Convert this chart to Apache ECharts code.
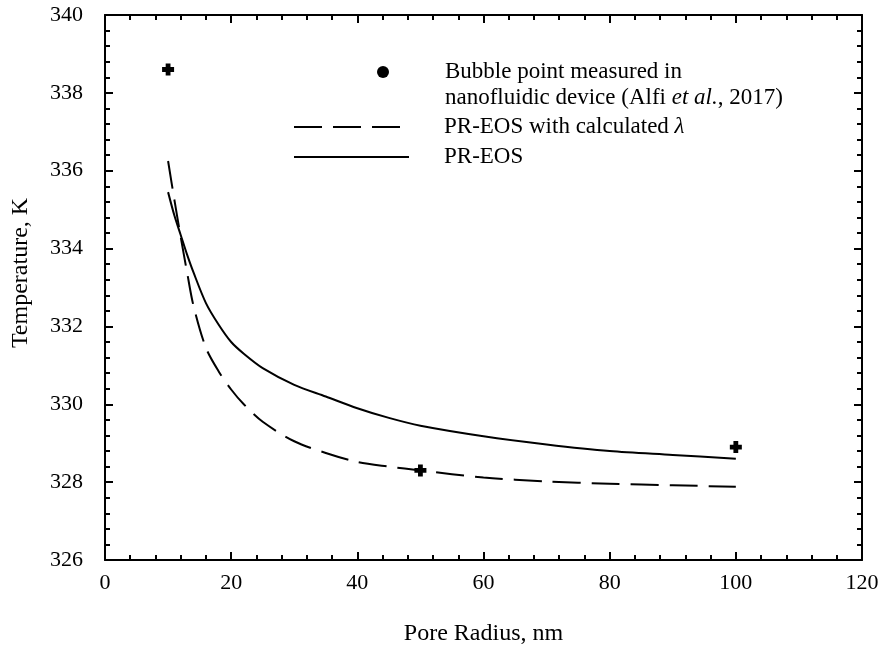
<!DOCTYPE html>
<html>
<head>
<meta charset="utf-8">
<script src="https://cdn.jsdelivr.net/npm/echarts@6/dist/echarts.min.js"></script>
<style>
html,body{margin:0;padding:0;background:#fff;}
#chart{width:884px;height:651px;}
</style>
</head>
<body>
<div id="chart"></div>
<script>
// Measured bubble points
const measuredX = [10, 50, 100];
const measuredY = [338.6, 328.3, 328.9];

// Pore radius samples for the curves
const radius = [10, 11, 12, 13, 14, 16, 18, 20, 22, 25, 30, 35, 40, 45, 50, 60, 70, 80, 90, 100];
// PR-EOS with calculated lambda (dashed)
const prLambda = [336.25, 335.25, 334.3, 333.4, 332.55, 331.45, 330.85, 330.38, 330.0, 329.55, 329.05, 328.75, 328.52, 328.4, 328.3, 328.12, 328.02, 327.96, 327.92, 327.88];
// PR-EOS (solid)
const prEos = [335.45, 334.85, 334.35, 333.85, 333.4, 332.6, 332.05, 331.6, 331.3, 330.93, 330.5, 330.2, 329.9, 329.65, 329.45, 329.18, 328.97, 328.8, 328.7, 328.6];

const xTicks = [0, 20, 40, 60, 80, 100, 120];
const yTicks = [326, 328, 330, 332, 334, 336, 338, 340];

const nameMeasured = 'Bubble point measured in nanofluidic device (Alfi et al., 2017)';
const nameLambda = 'PR-EOS with calculated λ';
const nameEos = 'PR-EOS';

const FONT = 'Liberation Serif';
const zip = (xs, ys) => xs.map((x, i) => [x, ys[i]]);
const plusPath = 'path://M3,0 L7,0 L7,3 L10,3 L10,7 L7,7 L7,10 L3,10 L3,7 L0,7 L0,3 L3,3 Z';

const axisCommon = {
  axisLine: { show: true, onZero: false, lineStyle: { color: '#000', width: 2 } },
  axisTick: { show: true, inside: true, length: 8, lineStyle: { color: '#000', width: 2 } },
  minorTick: { show: true, splitNumber: 5, length: 5, lineStyle: { color: '#000', width: 2 } },
  splitLine: { show: false }
};

const xMin = xTicks[0], xMax = xTicks[xTicks.length - 1];
const yMin = yTicks[0], yMax = yTicks[yTicks.length - 1];

const LF = 23; // legend font size
const txt = (extra) => Object.assign({ fontFamily: FONT, fontSize: LF, color: '#000', lineHeight: 26 }, extra || {});

const option = {
  backgroundColor: '#fff',
  animation: false,
  grid: { left: 105, right: 22, top: 15, bottom: 91, containLabel: false },
  xAxis: [
    Object.assign({}, axisCommon, {
      type: 'value', position: 'bottom', min: xMin, max: xMax, interval: 20,
      name: 'Pore Radius, nm', nameLocation: 'middle', nameGap: 62,
      nameTextStyle: { fontFamily: FONT, fontSize: 24, color: '#000' },
      axisLabel: { fontFamily: FONT, fontSize: 22, color: '#000', margin: 12 }
    }),
    Object.assign({}, axisCommon, {
      type: 'value', position: 'top', min: xMin, max: xMax, interval: 20,
      axisLabel: { show: false }
    })
  ],
  yAxis: [
    Object.assign({}, axisCommon, {
      type: 'value', position: 'left', min: yMin, max: yMax, interval: 2,
      name: 'Temperature, K', nameLocation: 'middle', nameGap: 72,
      nameTextStyle: { fontFamily: FONT, fontSize: 24, color: '#000', padding: [0, 0, 0, 29] },
      axisLabel: { fontFamily: FONT, fontSize: 22, color: '#000', margin: 22 }
    }),
    Object.assign({}, axisCommon, {
      type: 'value', position: 'right', min: yMin, max: yMax, interval: 2,
      axisLabel: { show: false }
    })
  ],
  legend: [
    {
      data: [{ name: nameMeasured, icon: 'circle' }],
      left: 377, top: 33, padding: 0,
      itemWidth: 12, itemHeight: 12,
      itemStyle: { opacity: 1 },
      formatter: () => '\n{p|Bubble point measured in}\n{p|nanofluidic device (Alfi }{i|et al.}{q|, 2017)}',
      textStyle: txt({
        rich: {
          p: txt({ padding: [0, 0, 0, 51] }),
          q: txt(),
          i: txt({ fontStyle: 'italic' })
        }
      }),
      selectedMode: false
    },
    {
      data: [nameLambda],
      left: 293, top: 114, padding: 0,
      itemWidth: 115, itemHeight: 14,
      itemStyle: { opacity: 0 },
      formatter: () => '{p|PR-EOS with calculated }{i|λ}',
      textStyle: txt({
        rich: {
          p: txt({ padding: [0, 0, 0, 30] }),
          i: txt({ fontStyle: 'italic' })
        }
      }),
      selectedMode: false
    },
    {
      data: [nameEos],
      left: 293, top: 144, padding: 0,
      itemWidth: 115, itemHeight: 14,
      itemStyle: { opacity: 0 },
      formatter: () => '{p|PR-EOS}',
      textStyle: txt({ rich: { p: txt({ padding: [0, 0, 0, 30] }) } }),
      selectedMode: false
    }
  ],
  series: [
    {
      name: nameLambda, type: 'line', smooth: 0.3, symbol: 'none',
      data: zip(radius, prLambda),
      lineStyle: { color: '#000', width: 2, type: [28, 11] },
      itemStyle: { color: '#000' }
    },
    {
      name: nameEos, type: 'line', smooth: 0.3, symbol: 'none',
      data: zip(radius, prEos),
      lineStyle: { color: '#000', width: 2, type: 'solid' },
      itemStyle: { color: '#000' }
    },
    {
      name: nameMeasured, type: 'scatter', symbol: plusPath, symbolSize: 12,
      data: zip(measuredX, measuredY),
      itemStyle: { color: '#000', opacity: 1 }, z: 5
    }
  ]
};

const chart = echarts.init(document.getElementById('chart'), null, { renderer: 'canvas' });
chart.setOption(option);
</script>
</body>
</html>
